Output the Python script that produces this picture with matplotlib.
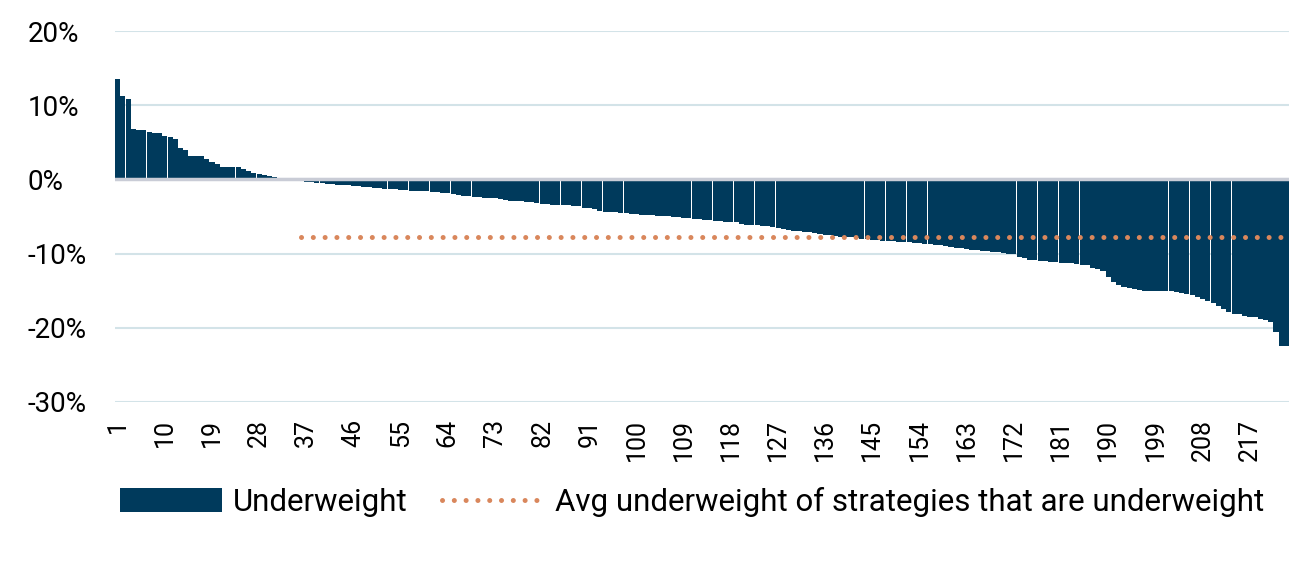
import numpy as np
import matplotlib
matplotlib.use("Agg")
import matplotlib.pyplot as plt
from matplotlib import font_manager
from matplotlib.lines import Line2D
from matplotlib.patches import Patch

# pick a narrow font if there is one
names = {f.name for f in font_manager.fontManager.ttflist}
for fam in ["Liberation Sans Narrow", "Roboto", "DejaVu Sans"]:
    if fam in names:
        plt.rcParams['font.family'] = [fam, 'DejaVu Sans']
        break

# relative weight per strategy, sorted (in %)
positive_vals = [13.5, 11.2, 10.8, 6.8, 6.6, 6.6, 6.35, 6.3, 6.2, 5.8,
                 5.7, 5.4, 4.2, 4.0, 3.2, 3.1, 3.1, 2.7, 2.3, 2.1,
                 1.7, 1.7, 1.7, 1.7, 1.35, 1.1, 0.8, 0.75, 0.6, 0.5,
                 0.35, 0.2, 0.1, 0.05]
negative_vals = [-0.05, -0.15, -0.3, -0.4, -0.5, -0.55, -0.6, -0.65, -0.7, -0.75,
                 -0.8, -0.85, -0.9, -1.0, -1.05, -1.1, -1.2, -1.25, -1.3, -1.35,
                 -1.4, -1.45, -1.5, -1.5, -1.55, -1.6, -1.7, -1.75, -1.8, -1.85,
                 -1.9, -2.1, -2.2, -2.25, -2.35, -2.4, -2.45, -2.5, -2.55, -2.6,
                 -2.8, -2.85, -2.9, -2.95, -3.0, -3.1, -3.2, -3.3, -3.35, -3.4,
                 -3.45, -3.5, -3.5, -3.55, -3.6, -3.8, -3.9, -4.0, -4.2, -4.35,
                 -4.4, -4.45, -4.5, -4.55, -4.6, -4.7, -4.75, -4.8, -4.85, -4.9,
                 -4.9, -4.95, -5.0, -5.1, -5.15, -5.2, -5.3, -5.35, -5.45, -5.5,
                 -5.55, -5.6, -5.7, -5.75, -5.8, -5.95, -6.1, -6.15, -6.2, -6.25,
                 -6.3, -6.4, -6.6, -6.7, -6.8, -6.9, -7.0, -7.05, -7.15, -7.25,
                 -7.4, -7.5, -7.55, -7.6, -7.7, -7.75, -7.8, -7.9, -8.0, -8.05,
                 -8.1, -8.2, -8.25, -8.3, -8.35, -8.4, -8.45, -8.5, -8.55, -8.6,
                 -8.65, -8.7, -8.8, -8.9, -9.0, -9.1, -9.2, -9.3, -9.4, -9.45,
                 -9.5, -9.6, -9.7, -9.75, -9.8, -9.9, -10.0, -10.1, -10.4, -10.6,
                 -10.8, -10.9, -11.0, -11.05, -11.1, -11.15, -11.2, -11.25, -11.3, -11.4,
                 -11.5, -11.6, -11.9, -12.1, -12.4, -13.2, -13.8, -14.2, -14.5, -14.7,
                 -14.8, -14.9, -15.0, -15.0, -15.0, -15.05, -15.1, -15.1, -15.2, -15.3,
                 -15.4, -15.6, -15.9, -16.1, -16.4, -16.7, -17.0, -17.5, -17.9, -18.1,
                 -18.2, -18.4, -18.5, -18.6, -18.8, -19.0, -19.2, -20.6, -22.5, -22.5]
values = positive_vals + negative_vals
strategies = np.arange(1, len(values) + 1)

avg_underweight = -7.7
avg_start = 36  # where the dotted average line begins

y_ticks = [20, 10, 0, -10, -20, -30]
x_ticks = list(range(1, 218, 9))

bar_color = '#003a5c'
dot_color = '#d9875c'
dots = (0, (0.01, 2.35))

fig = plt.figure(figsize=(13.13, 5.69), dpi=100)
ax = fig.add_axes([0.0876, 0.2935, 0.8942, 0.652])

ax.bar(strategies, values, width=0.97, color=bar_color, lw=0, zorder=2)
ax.axhline(0, color='#c9ccd6', lw=2.5, zorder=3)
ax.plot([avg_start, len(values) + 0.5], [avg_underweight, avg_underweight],
        color=dot_color, lw=3.6, linestyle=dots,
        dash_capstyle='round', zorder=4)

ax.set_xlim(0.5, len(values) + 0.5)
ax.set_ylim(-30, 20)
ax.set_yticks(y_ticks)
ax.set_yticklabels([f"{t}%" for t in y_ticks])
ax.set_xticks(x_ticks)
ax.set_xticklabels([str(t) for t in x_ticks], rotation=90)
ax.tick_params(axis='y', length=0, labelsize=20, pad=63)
ax.tick_params(axis='x', length=0, labelsize=18, pad=12)
for lab in ax.get_yticklabels():
    lab.set_horizontalalignment('left')

ax.yaxis.grid(True, color='#d3e3e8', lw=1.5, zorder=0)
ax.set_axisbelow(True)
for s in ax.spines.values():
    s.set_visible(False)

handles = [Patch(facecolor=bar_color, label='Underweight'),
           Line2D([0], [0], color=dot_color, lw=3.6, linestyle=dots,
                  dash_capstyle='round',
                  label='Avg underweight of strategies that are underweight')]
fig.legend(handles=handles, loc='center left', bbox_to_anchor=(0.0914, 0.118),
           ncol=2, frameon=False, fontsize=22.5, handlelength=3.26, handleheight=0.77,
           handletextpad=0.35, columnspacing=1.1, borderpad=0, borderaxespad=0)

fig.savefig('out.png', dpi=100)
